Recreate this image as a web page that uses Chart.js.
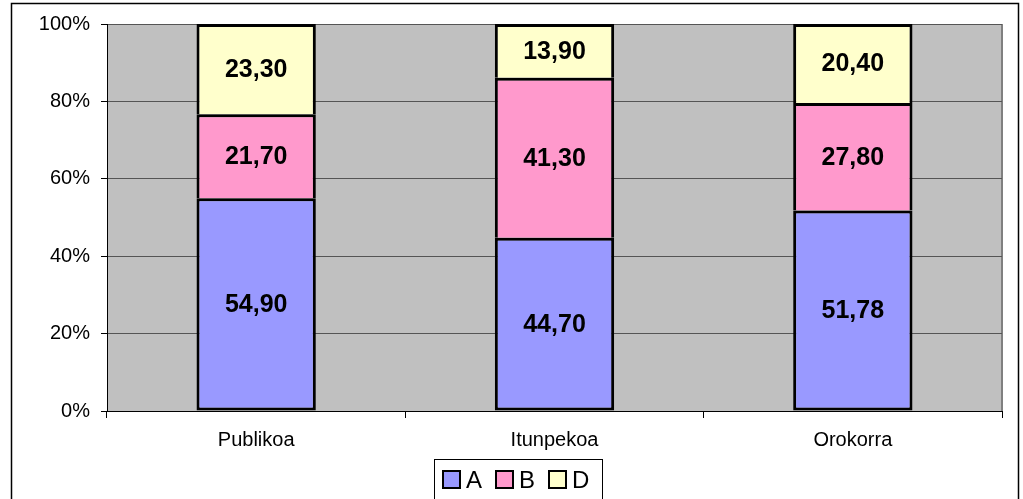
<!DOCTYPE html>
<html>
<head>
<meta charset="utf-8">
<script src="https://cdn.jsdelivr.net/npm/chart.js@4/dist/chart.umd.min.js"></script>
<style>
  html, body { margin: 0; padding: 0; background: #fff; }
  #wrap { width: 1023px; height: 499px; }
</style>
</head>
<body>
<div id="wrap"><canvas id="chart" width="1023" height="499"></canvas></div>
<script>
const categories = ['Publikoa', 'Itunpekoa', 'Orokorra'];
const seriesNames = ['A', 'B', 'D'];
const valuesA = [54.90, 44.70, 51.78];
const valuesB = [21.70, 41.30, 27.80];
const valuesD = [23.30, 13.90, 20.40];
const yTicks = ['0%', '20%', '40%', '60%', '80%', '100%'];

const colors = ['#9999FF', '#FF99CC', '#FFFFCC'];
const FONT = 'Arial, "Liberation Sans", sans-serif';

// each column is shown as a share of its own total
const raw = [valuesA, valuesB, valuesD];
const totals = categories.map((c, i) => raw.reduce((s, arr) => s + arr[i], 0));
const percent = arr => arr.map((v, i) => v / totals[i] * 100);

const datasets = raw.map((arr, k) => ({
    label: seriesNames[k],
    data: percent(arr),
    rawValues: arr,
    backgroundColor: colors[k],
    borderColor: '#000',
    borderWidth: 3,
    borderSkipped: k === 0 ? false : 'bottom',
    barPercentage: 0.4,
    categoryPercentage: 1.0
}));

// grey plot area, outer frame and legend box
const backdrop = {
    id: 'backdrop',
    beforeDraw(chart) {
        const { ctx, chartArea: a } = chart;
        ctx.save();
        ctx.fillStyle = '#fff';
        ctx.fillRect(0, 0, chart.width, chart.height);
        ctx.fillStyle = '#C0C0C0';
        ctx.fillRect(a.left, a.top, a.right - a.left, a.bottom - a.top);
        ctx.strokeStyle = '#808080';
        ctx.lineWidth = 2;
        ctx.beginPath();
        ctx.moveTo(a.right, a.top);
        ctx.lineTo(a.right, a.bottom);
        ctx.stroke();
        ctx.strokeStyle = '#000';
        ctx.lineWidth = 1.5;
        ctx.strokeRect(11.5, 3.5, 1007, 520);
        ctx.restore();
    },
    afterDraw(chart) {
        const { ctx } = chart;
        ctx.save();
        ctx.strokeStyle = '#000';
        ctx.lineWidth = 1;
        ctx.strokeRect(434.5, 459.5, 168, 60);
        ctx.font = '24px ' + FONT;
        ctx.textBaseline = 'middle';
        ctx.textAlign = 'left';
        const xs = [443, 496, 549];
        chart.data.datasets.forEach((ds, k) => {
            ctx.fillStyle = ds.backgroundColor;
            ctx.fillRect(xs[k], 471, 17, 17);
            ctx.lineWidth = 2;
            ctx.strokeRect(xs[k], 471, 17, 17);
            ctx.fillStyle = '#000';
            ctx.fillText(ds.label, xs[k] + 23, 481);
        });
        ctx.restore();
    }
};

// value labels in the middle of each segment
const segmentLabels = {
    id: 'segmentLabels',
    afterDatasetsDraw(chart) {
        const { ctx } = chart;
        ctx.save();
        ctx.font = 'bold 25px ' + FONT;
        ctx.fillStyle = '#000';
        ctx.textAlign = 'center';
        ctx.textBaseline = 'middle';
        chart.data.datasets.forEach((ds, k) => {
            chart.getDatasetMeta(k).data.forEach((bar, i) => {
                const txt = ds.rawValues[i].toFixed(2).replace('.', ',');
                ctx.fillText(txt, bar.x, (bar.y + bar.base) / 2 + 1);
            });
        });
        ctx.restore();
    }
};

new Chart(document.getElementById('chart'), {
    type: 'bar',
    data: { labels: categories, datasets },
    options: {
        responsive: false,
        animation: false,
        layout: { padding: { top: 24, right: 21, left: 0, bottom: 0 } },
        plugins: { legend: { display: false }, tooltip: { enabled: false } },
        scales: {
            x: {
                stacked: true,
                grid: { drawOnChartArea: false, tickLength: 7, color: '#000', offset: true },
                border: { color: '#000', width: 1 },
                ticks: { color: '#000', font: { family: FONT, size: 20 }, padding: 10 },
                afterFit(scale) { scale.height = 88; }
            },
            y: {
                stacked: true,
                min: 0,
                max: 100,
                grid: { color: '#555', lineWidth: 1, tickColor: '#000', tickLength: 6 },
                border: { color: '#000', width: 1 },
                ticks: {
                    stepSize: 20,
                    color: '#000',
                    padding: 11,
                    font: { family: FONT, size: 20 },
                    callback: (v) => yTicks[v / 20]
                },
                afterFit(scale) { scale.width = 107; }
            }
        }
    },
    plugins: [backdrop, segmentLabels]
});
</script>
</body>
</html>
